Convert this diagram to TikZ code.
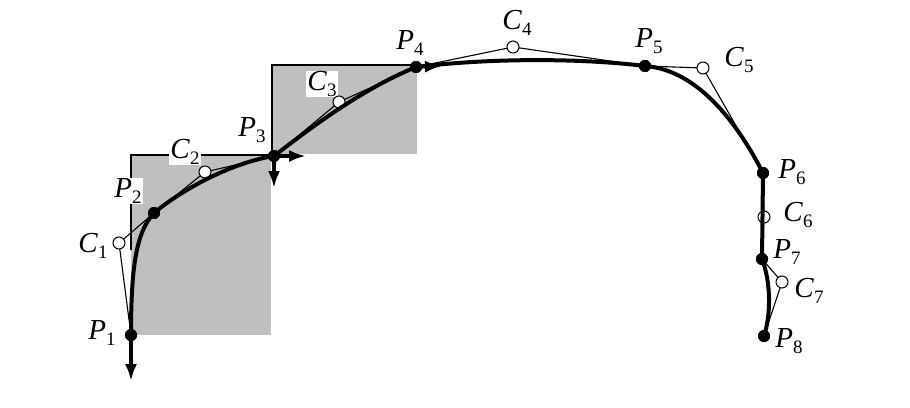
\documentclass[tikz,border=0pt]{standalone}
\usepackage{fontspec}
\setmainfont{Liberation Serif}
\usetikzlibrary{arrows.meta}
\newcommand{\lbl}[2]{\textit{#1}\raisebox{-0.4ex}{\fontsize{19}{19}\selectfont #2}}
\begin{document}
\begin{tikzpicture}[x=1pt,y=-1pt,
  pt/.style={circle,fill=black,inner sep=0pt,minimum size=12pt},
  cp/.style={circle,draw=black,fill=white,line width=1pt,inner sep=0pt,minimum size=12pt},
  lab/.style={fill=white,inner sep=1pt,font=\fontsize{29}{31}\selectfont},
  curve/.style={line width=4pt},
  poly/.style={line width=1.1pt},
  border/.style={line width=2.8pt},
  tang/.style={line width=3.2pt,-{Latex[length=17pt,width=12pt]}},
  region/.style={fill=black!25}]
\useasboundingbox (0,0) rectangle (910,407);
% shaded regions
\fill[region] (131,155) rectangle (271,335);
\fill[region] (272,65) rectangle (417,154);
\draw[border] (131,250) -- (131,155) -- (274,155);
\draw[border] (272,156) -- (272,65) -- (418,65);
% points
\node[pt] (P1) at (131,335) {};
\node[pt] (P2) at (154,213) {};
\node[pt] (P3) at (274,156) {};
\node[pt] (P4) at (416,67) {};
\node[pt] (P5) at (645,66) {};
\node[pt] (P6) at (763,173) {};
\node[pt] (P7) at (762,259) {};
\node[pt] (P8) at (764,336) {};
% control points (positions)
\coordinate (C1) at (119,243);
\coordinate (C2) at (205,172);
\coordinate (C3) at (339,102);
\coordinate (C4) at (513,47);
\coordinate (C5) at (703,68);
\coordinate (C6) at (764,217);
\coordinate (C7) at (782,282);
% labels
\node[lab] (LP1) at (102,333) {\lbl{P}{1}};
\node[lab] (LP2) at (128,191) {\lbl{P}{2}};
\node[lab] (LC1) at (93,246) {\lbl{C}{1}};
\node[lab] (LC2) at (185,152) {\lbl{C}{2}};
\node[lab] (LP3) at (252,130) {\lbl{P}{3}};
\node[lab] (LC3) at (322,84) {\lbl{C}{3}};
\node[lab] (LP4) at (410,43) {\lbl{P}{4}};
\node[lab] (LC4) at (517,23) {\lbl{C}{4}};
\node[lab] (LP5) at (649,41) {\lbl{P}{5}};
\node[lab] (LC5) at (739,60) {\lbl{C}{5}};
\node[lab] (LP6) at (792,172) {\lbl{P}{6}};
\node[lab] (LC6) at (798,215) {\lbl{C}{6}};
\node[lab] (LP7) at (787,252) {\lbl{P}{7}};
\node[lab] (LC7) at (809,291) {\lbl{C}{7}};
\node[lab] (LP8) at (789,341) {\lbl{P}{8}};
% control polygon
\draw[poly] (P1.center) -- (C1) -- (P2.center) -- (C2) -- (P3.center) -- (C3) -- (P4.center)
  -- (C4) -- (P5.center) -- (C5) -- (P6.center) -- (C6) -- (P7.center) -- (C7) -- (P8.center);
% control point markers
\foreach \c in {C1,C2,C3,C4,C5,C6,C7} \node[cp] (m\c) at (\c) {};
% curve
\draw[curve] (P1.center) .. controls (131,268) and (136,232) .. (P2.center)
  .. controls (185,187) and (235,162) .. (P3.center)
  .. controls (318,122) and (365,88) .. (P4.center)
  .. controls (490,58) and (580,58) .. (P5.center)
  .. controls (700,70) and (740,128) .. (P6.center)
  -- (P7.center)
  .. controls (771,282) and (771,315) .. (P8.center);
% tangent arrows
\coordinate (A1) at (131,381);
\coordinate (A3r) at (306,156);
\coordinate (A3d) at (274,188);
\coordinate (A4) at (442,66);
\draw[tang] (P1.center) -- (A1);
\draw[tang] (P3.center) -- (A3r);
\draw[tang] (P3.center) -- (A3d);
\draw[tang] (P4.center) -- (A4);
% redraw points on top
\foreach \p in {P1,P2,P3,P4,P5,P6,P7,P8} \fill (\p) circle (6pt);
\end{tikzpicture}
\end{document}
